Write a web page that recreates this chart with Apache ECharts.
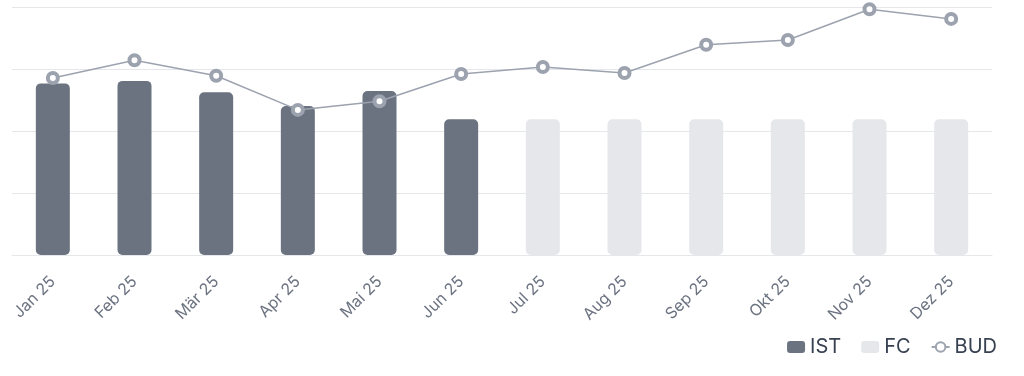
<!DOCTYPE html>
<html>
<head>
<meta charset="utf-8">
<script src="https://cdn.jsdelivr.net/npm/echarts@6/dist/echarts.min.js"></script>
<style>
  html, body { margin: 0; padding: 0; background: #fff; }
  #chart { width: 1024px; height: 376px; }
</style>
</head>
<body>
<div id="chart"></div>
<script>
// Monate
const months = ['Jan 25', 'Feb 25', 'Mär 25', 'Apr 25', 'Mai 25', 'Jun 25',
                'Jul 25', 'Aug 25', 'Sep 25', 'Okt 25', 'Nov 25', 'Dez 25'];
// Ist-Werte (Jan-Jun)
const istValues = [69.2, 70.2, 65.6, 60.1, 66.1, 54.7, null, null, null, null, null, null];
// Forecast (Jul-Dez)
const fcValues = [null, null, null, null, null, null, 54.7, 54.7, 54.7, 54.7, 54.7, 54.7];
// Budget
const budValues = [71.4, 78.5, 72.3, 58.5, 62.0, 73.0, 75.8, 73.4, 84.8, 86.7, 99.1, 95.2];

const chart = echarts.init(document.getElementById('chart'));
const option = {
  animation: false,
  textStyle: { fontFamily: 'Inter' },
  grid: { left: 12, right: 32, top: 7, bottom: 121 },
  legend: {
    right: 22,
    top: 332,
    itemWidth: 18,
    itemHeight: 12,
    itemGap: 20,
    textStyle: { fontSize: 20, color: '#374151', fontFamily: 'Inter' },
    data: ['IST', 'FC', 'BUD']
  },
  xAxis: {
    type: 'category',
    data: months,
    axisLine: { lineStyle: { color: '#e5e7eb' } },
    axisTick: { show: false },
    axisLabel: { rotate: 45, margin: 24, fontSize: 16, color: '#6b7280', interval: 0 }
  },
  yAxis: {
    type: 'value',
    min: 0,
    max: 100,
    interval: 25,
    axisLabel: { show: false },
    axisLine: { show: false },
    axisTick: { show: false },
    splitLine: { lineStyle: { color: '#e5e7eb' } }
  },
  series: [
    {
      name: 'IST',
      type: 'bar',
      data: istValues,
      barWidth: 34,
      barGap: '-100%',
      itemStyle: { color: '#6b7280', borderRadius: 5 }
    },
    {
      name: 'FC',
      type: 'bar',
      data: fcValues,
      barWidth: 34,
      barGap: '-100%',
      itemStyle: { color: '#e5e7eb', borderRadius: 5 }
    },
    {
      name: 'BUD',
      type: 'line',
      data: budValues,
      symbol: 'circle',
      symbolSize: 10,
      lineStyle: { color: '#9ca3af', width: 1.5 },
      itemStyle: { color: '#ffffff', borderColor: '#9ca3af', borderWidth: 4 }
    }
  ]
};
chart.setOption(option);
window.addEventListener('resize', function () { chart.resize(); });
</script>
</body>
</html>
